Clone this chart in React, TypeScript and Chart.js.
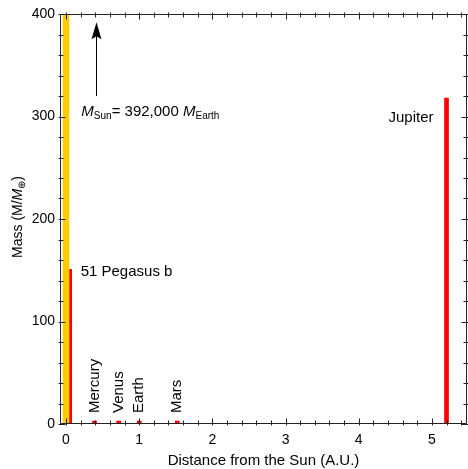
import React, { useEffect, useRef } from 'react';
import { Chart, registerables } from 'chart.js';

Chart.register(...registerables);

// ---- data ----
const sunDistance = [0];
const sunMass = [392000];
const planetNames = ['Mercury', 'Venus', 'Earth', 'Mars', 'Jupiter', '51 Pegasus b'];
const planetDistances = [0.39, 0.72, 1.0, 1.52, 5.2, 0.05];
const planetMasses = [0.055, 0.815, 1, 0.107, 318, 151];
const xTickValues = [0, 1, 2, 3, 4, 5];
const yTickValues = [0, 100, 200, 300, 400];
const xTitle = 'Distance from the Sun (A.U.)';

// annotation (arrow + note about the Sun's mass), in data units
const arrowX = 0.41;
const arrowFromY = 320;
const arrowToY = 392;
const noteX = 0.21;
const noteY = 305;

const FONT = '"Liberation Sans", Arial, Helvetica, sans-serif';
const SIZE = 15;
const SUB = 10;

type Part = { text: string; italic?: boolean; sub?: boolean };

function partFont(p: Part, base: number) {
  return `${p.italic ? 'italic ' : ''}${p.sub ? SUB : base}px ${FONT}`;
}
function richWidth(ctx: CanvasRenderingContext2D, parts: Part[], base: number) {
  let w = 0;
  for (const p of parts) {
    ctx.font = partFont(p, base);
    w += ctx.measureText(p.text).width;
  }
  return w;
}
function drawRich(ctx: CanvasRenderingContext2D, parts: Part[], x: number, y: number, base: number) {
  ctx.textAlign = 'left';
  ctx.textBaseline = 'alphabetic';
  let cx = x;
  for (const p of parts) {
    ctx.font = partFont(p, base);
    ctx.fillText(p.text, cx, y + (p.sub ? 3 : 0));
    cx += ctx.measureText(p.text).width;
  }
}

const overlay = {
  id: 'overlay',
  afterDraw(chart: any) {
    const { ctx, chartArea: a, scales } = chart;
    const x = scales.x;
    const y = scales.y;
    ctx.save();
    ctx.strokeStyle = '#222';
    ctx.lineWidth = 1;
    const L = Math.round(a.left) + 0.5;
    const R = Math.round(a.right) - 0.5;
    const T = Math.round(a.top) + 0.5;
    const B = Math.round(a.bottom) - 0.5;
    ctx.beginPath();
    ctx.moveTo(L, T); ctx.lineTo(R, T); ctx.lineTo(R, B); ctx.lineTo(L, B); ctx.closePath();
    ctx.stroke();

    // ticks (inward), minor every 20 on y, every 0.2 on x
    ctx.beginPath();
    for (let v = y.min; v <= y.max + 1e-9; v += 20) {
      const py = Math.round(y.getPixelForValue(v)) + 0.5;
      const len = v % 100 === 0 ? 5 : 3;
      ctx.moveTo(L - 2, py); ctx.lineTo(L + len, py);
      ctx.moveTo(R - len, py); ctx.lineTo(R + 2, py);
    }
    for (let i = 0; i / 5 <= x.max; i++) {
      const v = i / 5;
      const px = Math.round(x.getPixelForValue(v)) + 0.5;
      const len = i % 5 === 0 ? 5 : 3;
      ctx.moveTo(px, B + 2); ctx.lineTo(px, B - len);
      ctx.moveTo(px, T - 2); ctx.lineTo(px, T + len);
    }
    ctx.stroke();

    // planet labels
    ctx.fillStyle = '#000';
    ctx.font = `${SIZE}px ${FONT}`;
    const p0 = y.getPixelForValue(0);
    planetNames.forEach((name, i) => {
      const px = x.getPixelForValue(planetDistances[i]);
      const pt = y.getPixelForValue(planetMasses[i]);
      if (planetMasses[i] < 20) {
        ctx.save();
        ctx.translate(px, p0 - 11);
        ctx.rotate(-Math.PI / 2);
        ctx.textAlign = 'left';
        ctx.textBaseline = 'middle';
        ctx.fillText(name, 0, 0);
        ctx.restore();
      } else if (planetDistances[i] > 2) {
        ctx.textAlign = 'right';
        ctx.textBaseline = 'middle';
        ctx.fillText(name, px - 13, pt + 20);
      } else {
        ctx.textAlign = 'left';
        ctx.textBaseline = 'middle';
        ctx.fillText(name, px + 11, pt + 3);
      }
    });

    // arrow
    const ax = Math.round(x.getPixelForValue(arrowX)) + 0.5;
    const ay0 = y.getPixelForValue(arrowFromY);
    const ay1 = y.getPixelForValue(arrowToY);
    ctx.strokeStyle = '#000';
    ctx.beginPath();
    ctx.moveTo(ax, ay0); ctx.lineTo(ax, ay1 + 10);
    ctx.stroke();
    ctx.beginPath();
    ctx.moveTo(ax, ay1);
    ctx.lineTo(ax - 5, ay1 + 17);
    ctx.lineTo(ax, ay1 + 14);
    ctx.lineTo(ax + 5, ay1 + 17);
    ctx.closePath();
    ctx.fillStyle = '#000';
    ctx.fill();

    // note
    const earthRatio = Math.round(sunMass[0]).toLocaleString('en-US');
    const note: Part[] = [
      { text: 'M', italic: true },
      { text: 'Sun', sub: true },
      { text: `= ${earthRatio} ` },
      { text: 'M', italic: true },
      { text: 'Earth', sub: true },
    ];
    drawRich(ctx, note, x.getPixelForValue(noteX), y.getPixelForValue(noteY) + 5, SIZE);

    // y title
    const yt: Part[] = [
      { text: 'Mass (M/' },
      { text: 'M', italic: true },
      { text: '⊕', sub: true },
      { text: ')' },
    ];
    const w = richWidth(ctx, yt, 14);
    ctx.save();
    ctx.translate(22, 217);
    ctx.rotate(-Math.PI / 2);
    drawRich(ctx, yt, -w / 2, 0, 14);
    ctx.restore();

    ctx.restore();
  },
};

export default function App() {
  const ref = useRef<HTMLCanvasElement>(null);
  useEffect(() => {
    document.body.style.margin = '0';
    const chart = new Chart(ref.current!, {
      type: 'bar',
      data: {
        datasets: [
          {
            data: sunDistance.map((d, i) => ({ x: d, y: sunMass[i] })),
            backgroundColor: '#FFCC00',
            barThickness: 6,
            grouped: false,
          } as any,
          {
            data: planetDistances.map((d, i) => ({ x: d, y: planetMasses[i] })),
            backgroundColor: '#FF0000',
            barThickness: 4,
            minBarLength: 3,
            grouped: false,
          } as any,
        ],
      },
      options: {
        responsive: false,
        animation: false,
        devicePixelRatio: 1,
        layout: { padding: { top: 14, right: 1, left: 0, bottom: 0 } },
        plugins: { legend: { display: false }, tooltip: { enabled: false } },
        scales: {
          x: {
            type: 'linear',
            min: -0.082,
            max: 5.48,
            offset: false,
            grid: { display: false, drawTicks: false },
            border: { display: false },
            afterFit: (s: any) => { s.height = 45; },
            afterBuildTicks: (s: any) => { s.ticks = xTickValues.map((v) => ({ value: v })); },
            ticks: { color: '#000', font: { family: FONT, size: 14 }, padding: 8, maxRotation: 0 },
            title: { display: true, text: xTitle, color: '#000', font: { family: FONT, size: SIZE }, padding: { top: 0, bottom: -1 } },
          },
          y: {
            type: 'linear',
            min: 0,
            max: 400,
            grid: { display: false, drawTicks: false },
            border: { display: false },
            afterFit: (s: any) => { s.width = 60; },
            afterBuildTicks: (s: any) => { s.ticks = yTickValues.map((v) => ({ value: v })); },
            ticks: { color: '#000', font: { family: FONT, size: 14 }, padding: 5 },
          },
        },
      },
      plugins: [overlay],
    });
    return () => chart.destroy();
  }, []);
  return (
    <div style={{ width: 468, height: 469 }}>
      <canvas ref={ref} width={468} height={469} style={{ display: 'block' }} />
    </div>
  );
}
